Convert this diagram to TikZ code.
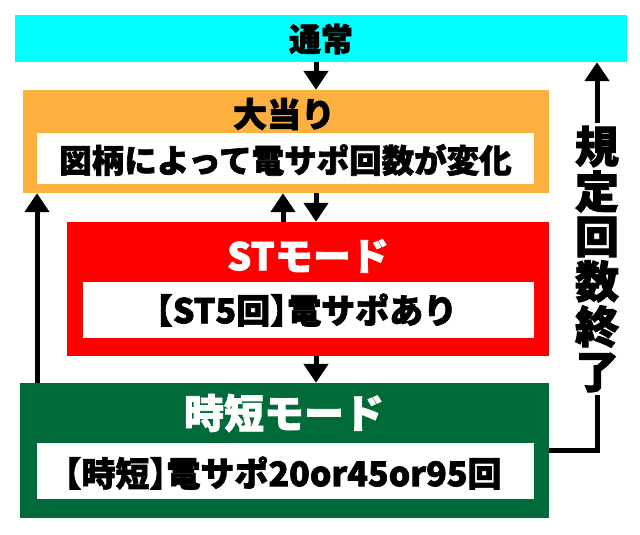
\documentclass[tikz,border=0pt]{standalone}
\usepackage{fontspec}
\newfontfamily\jp{Noto Sans CJK JP}[BoldFeatures={FakeBold=2}]
\newcommand\hw[1]{{\addfontfeature{RawFeature=+halt}#1}}
\usetikzlibrary{arrows.meta}
\definecolor{cyanbox}{HTML}{00FFFF}
\definecolor{orangebox}{HTML}{FBB040}
\definecolor{redbox}{HTML}{FF0000}
\definecolor{greenbox}{HTML}{006A38}
\tikzset{
  box/.style={draw=none,inner sep=0pt,minimum width=#1},
  inbox/.style={fill=white,inner sep=0pt,minimum width=497pt,minimum height=#1},
  jtext/.style={font=\jp\bfseries\fontsize{#1}{#1}\selectfont,inner sep=0pt},
  conn/.style={line width=5pt,draw=black},
  arr/.style={conn,-{Triangle[width=24pt,length=19pt]}},
}
\begin{document}
\begin{tikzpicture}[x=1pt,y=-1pt]
\useasboundingbox (0,0) rectangle (640,535);
% boxes
\node[box=612pt,minimum height=47pt,fill=cyanbox] (cyan) at (321,38.5) {};
\node[box=526pt,minimum height=103pt,fill=orangebox] (orange) at (286,141.5) {};
\node[inbox=51pt] (orangein) at (285.5,158.5) {};
\node[box=482pt,minimum height=134pt,fill=redbox] (red) at (308,289) {};
\node[inbox=56pt,minimum width=451pt] (redin) at (308.5,310) {};
\node[box=529pt,minimum height=135pt,fill=greenbox] (green) at (284.5,450.5) {};
\node[inbox=56pt] (greenin) at (285.5,471) {};
% texts
\node[jtext=32] (t1) at (321,39) {通常};
\node[jtext=34] (t2) at (284,114) {大当り};
\node[jtext=32.5] (t3) at (285.5,160) {図柄によって電サポ回数が変化};
\node[jtext=38,text=white] (t4) at (308,256) {STモード};
\node[jtext=34] (t5) at (306.5,310) {\hw{【}ST5回\hw{】}電サポあり};
\node[jtext=40,text=white] (t6) at (284,413) {時短モード};
\node[jtext=34] (t7) at (283,473) {\hw{【}時短\hw{】}電サポ20or45or95回};
\node[jtext=44,align=center,font=\jp\bfseries\fontsize{44}{45}\selectfont,inner sep=3pt] (lbl) at (597,259) {規\\定\\回\\数\\終\\了};
% connector positions
\coordinate (xa) at (316,0);
\coordinate (xb) at (283,0);
\coordinate (xl) at (37,0);
\coordinate (yr) at (0,450);
\coordinate (cr) at (597,450);
% arrows
\draw[arr] (cyan.south -| xa) -- (orange.north -| xa);
\draw[arr] (orange.south -| xa) -- (red.north -| xa);
\draw[arr] (red.north -| xb) -- (orange.south -| xb);
\draw[arr] (red.south -| xa) -- (green.north -| xa);
\draw[arr] (green.north -| xl) -- (orange.south -| xl);
\draw[conn] (green.east |- yr) -- (cr) -- (lbl.south);
\draw[arr] (lbl.north) -- (cyan.south -| lbl);
\end{tikzpicture}
\end{document}
